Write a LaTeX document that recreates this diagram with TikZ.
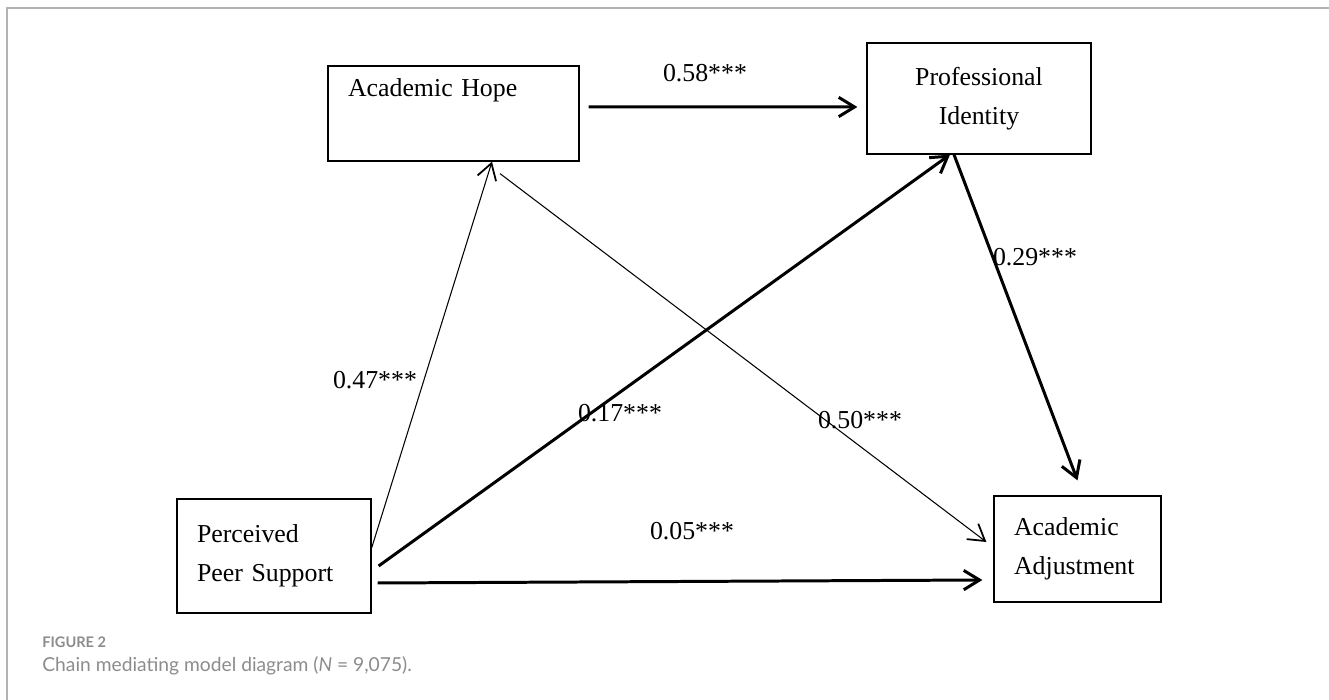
\documentclass[tikz,border=0pt]{standalone}
\usepackage{fontspec}
\setmainfont{Liberation Serif}
\newfontfamily\capfont{Lato}
\usetikzlibrary{arrows.meta}

\begin{document}
\begin{tikzpicture}[
  varbox/.style={draw,line width=0.7pt,align=left,inner xsep=0.4cm,font=\fontsize{14.7}{22.5}\selectfont},
  coef/.style={font=\fontsize{14.7}{18}\selectfont,inner sep=0pt},
  boldarrow/.style={line width=1.7pt,-{Straight Barb[length=9pt,width=11pt]}},
  lightarrow/.style={line width=0.6pt,-{Straight Barb[length=9pt,width=11pt,line width=1pt]}}]
\useasboundingbox (0,0) rectangle (26.58,14);
\draw[gray!60,line width=0.7pt] (0.14,0) -- (0.14,13.84) -- (26.58,13.84);
\node[varbox,text width=4.22cm,minimum height=1.9cm] (ah) at (9.07,11.73) {Academic Hope\\ \strut};
\node[varbox,align=center,text width=3.68cm,minimum height=2.22cm] (pi) at (19.58,12.03) {Professional\\Identity};
\node[varbox,text width=2.54cm,minimum height=2.12cm] (aa) at (21.55,3.02) {Academic\\Adjustment};
\node[varbox,text width=3.08cm,minimum height=2.28cm] (pps) at (5.48,2.88) {Perceived\\Peer Support};
\draw[boldarrow] ([shift={(0.18,0.13)}]ah.east) -- ([shift={(-0.18,-0.17)}]pi.west);
\draw[boldarrow] ([xshift=-0.5cm]pi.south) -- ([yshift=0.3cm]aa.north);
\draw[boldarrow] ([shift={(0.14,-0.2)}]pps.east) -- ([xshift=-0.58cm]pi.south);
\draw[lightarrow] ([yshift=0.16cm]pps.east) -- ([xshift=0.77cm]ah.south);
\draw[lightarrow] ([shift={(0.93,-0.24)}]ah.south) -- ([shift={(-0.14,0.14)}]aa.west);
\draw[boldarrow] ([shift={(0.12,-0.54)}]pps.east) -- ([shift={(-0.22,-0.62)}]aa.west);
\node[coef] (c58) at (14.1,12.54) {0.58***};
\node[coef] (c47) at (7.5,6.4) {0.47***};
\node[coef] (c17) at (12.4,5.74) {0.17***};
\node[coef] (c50) at (17.2,5.6) {0.50***};
\node[coef] (c29) at (20.7,8.86) {0.29***};
\node[coef] (c05) at (13.84,3.38) {0.05***};
\node[anchor=west,inner sep=0pt,text=gray!90,font=\capfont\bfseries\fontsize{8.3}{10}\selectfont] (fig) at (0.84,1.16) {FIGURE 2};
\node[anchor=west,inner sep=0pt,text=gray!90,font=\capfont\fontsize{10.95}{12}\selectfont] (cap) at (0.84,0.68) {Chain mediating model diagram (\textit{N} = 9,075).};
\end{tikzpicture}
\end{document}
